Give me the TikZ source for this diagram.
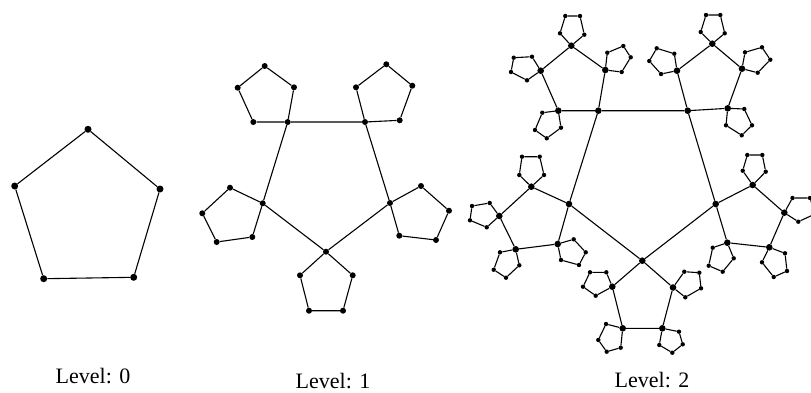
\documentclass[tikz,border=0pt]{standalone}
\usepackage{fontspec}
\setmainfont{Liberation Serif}
\tikzset{
  dotA/.style={circle,fill=black,inner sep=0pt,minimum size=7pt},
  dotB/.style={circle,fill=black,inner sep=0pt,minimum size=6pt},
  dotC/.style={circle,fill=black,inner sep=0pt,minimum size=6.6pt},
  dotD/.style={circle,fill=black,inner sep=0pt,minimum size=4.4pt},
  edge/.style={draw=black,line width=1.1pt},
  lvl/.style={font=\fontsize{22}{26}\selectfont,anchor=base}
}
% #1 anchor node, #2 dot style, #3..#6 the four other corners
\newcommand\penta[6]{%
  \node[#2] (#1-1) at #3 {};
  \node[#2] (#1-2) at #4 {};
  \node[#2] (#1-3) at #5 {};
  \node[#2] (#1-4) at #6 {};
  \draw[edge] (#1) -- (#1-1) -- (#1-2) -- (#1-3) -- (#1-4) -- (#1);
}
\begin{document}
\begin{tikzpicture}[x=1pt,y=-1pt]
\useasboundingbox (0,0) rectangle (811,392);
\clip (0,0) rectangle (811,392);
% ---------- Level 0 ----------
\node[dotA] (a1) at (88,129.3) {};
\node[dotA] (a2) at (160,189) {};
\node[dotA] (a3) at (133.7,277.3) {};
\node[dotA] (a4) at (43.7,278.7) {};
\node[dotA] (a5) at (14.7,186) {};
\draw[edge] (a1) -- (a2) -- (a3) -- (a4) -- (a5) -- (a1);
% ---------- Level 1 ----------
\node[dotB] (b1) at (287.7,122) {};
\node[dotB] (b2) at (365,122) {};
\node[dotB] (b3) at (390,203) {};
\node[dotB] (b4) at (326,251.7) {};
\node[dotB] (b5) at (262.7,203.3) {};
\draw[edge] (b1) -- (b2) -- (b3) -- (b4) -- (b5) -- (b1);
\penta{b1}{dotB}{(253.3,122)}{(237.7,87.7)}{(264.7,66)}{(294,87.3)}
\penta{b2}{dotB}{(399.7,120.3)}{(412.3,85.7)}{(386.3,64.3)}{(356,87.3)}
\penta{b3}{dotB}{(421,186)}{(449,210.7)}{(436,240)}{(399.3,235.7)}
\penta{b4}{dotB}{(300,275.3)}{(309,310.7)}{(343,310.7)}{(352.7,275.3)}
\penta{b5}{dotB}{(230,187.7)}{(202.3,213.3)}{(216.7,242)}{(252.3,237)}
% ---------- Level 2 ----------
\node[dotC] (c1) at (598.3,110.7) {};
\node[dotC] (c2) at (687.7,110.7) {};
\node[dotC] (c3) at (715.7,204) {};
\node[dotC] (c4) at (642.3,260.7) {};
\node[dotC] (c5) at (569,204) {};
\draw[edge] (c1) -- (c2) -- (c3) -- (c4) -- (c5) -- (c1);
% medium pentagons
\penta{c1}{dotC}{(558.3,110.7)}{(540.7,70.7)}{(571.3,45.7)}{(605.3,70)}
\penta{c2}{dotC}{(727.7,108.3)}{(742,68.7)}{(712.3,43.7)}{(677,70.7)}
\penta{c3}{dotC}{(752.7,185)}{(784.3,212.7)}{(769.3,247.3)}{(727.3,242.7)}
\penta{c4}{dotC}{(612.3,286.7)}{(622.7,328.3)}{(662.3,328.3)}{(673,287.5)}
\penta{c5}{dotC}{(531.3,186.7)}{(499.3,216)}{(515.7,249.3)}{(557.7,244)}
% small pentagons
\penta{c1-1}{dotD}{(542.3,112.7)}{(535,130)}{(546.7,138.3)}{(561,127.7)}
\penta{c1-2}{dotD}{(532,56.7)}{(513.7,57.7)}{(511,72)}{(527,80.3)}
\penta{c1-3}{dotD}{(584.3,34.7)}{(580,16)}{(565.3,16)}{(560,33.3)}
\penta{c1-4}{dotD}{(607.3,52.7)}{(623.3,46)}{(630.7,57.3)}{(621.7,72)}
\penta{c2-1}{dotD}{(744.3,109)}{(752,125.3)}{(741.7,135.3)}{(726,125.3)}
\penta{c2-2}{dotD}{(745,52.3)}{(762,47.3)}{(770.3,59.7)}{(757.7,72.7)}
\penta{c2-3}{dotD}{(724.7,33.3)}{(720.3,15)}{(706,15)}{(700.7,32)}
\penta{c2-4}{dotD}{(674.3,53.7)}{(656.7,48.3)}{(649.3,61)}{(661,74)}
\penta{c3-1}{dotD}{(742.7,170.7)}{(747.3,155)}{(762.3,155)}{(765.7,171.7)}
\penta{c3-2}{dotD}{(792.5,198)}{(810,198)}{(815,214)}{(798.3,221.7)}
\penta{c3-3}{dotD}{(785,253.3)}{(787,271)}{(773.7,277)}{(762,262.3)}
\penta{c3-4}{dotD}{(712.7,247.7)}{(708.7,265.7)}{(722.7,271.7)}{(733.7,258.3)}
\penta{c4-1}{dotD}{(606.3,272.3)}{(590,272.3)}{(583,286.7)}{(595.7,295.7)}
\penta{c4-2}{dotD}{(606,324)}{(598.3,340)}{(606.7,351.7)}{(620.7,347.7)}
\penta{c4-3}{dotD}{(679,331.7)}{(682.7,344.3)}{(672.3,352.7)}{(659.3,345)}
\penta{c4-4}{dotD}{(684.3,271.7)}{(699.3,272.7)}{(701,288.3)}{(685.3,297.3)}
\penta{c5-1}{dotD}{(519.3,175)}{(522,156.7)}{(539.7,156.7)}{(544,175)}
\penta{c5-2}{dotD}{(489.7,203)}{(472,206)}{(470,220.3)}{(486.7,227.3)}
\penta{c5-3}{dotD}{(500,252.3)}{(493.7,269.7)}{(506,277.7)}{(519.3,265.3)}
\penta{c5-4}{dotD}{(573.7,239.3)}{(585.7,252.3)}{(579,265)}{(561,260)}
% ---------- labels ----------
\node[lvl] (t0) at (93,383) {Level: 0};
\node[lvl] (t1) at (333,388) {Level: 1};
\node[lvl] (t2) at (652,387) {Level: 2};
\end{tikzpicture}
\end{document}
